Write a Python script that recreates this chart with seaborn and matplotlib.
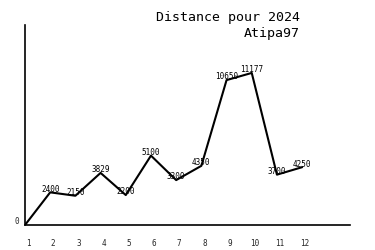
import matplotlib
matplotlib.use("Agg")
import matplotlib.pyplot as plt
import matplotlib.transforms as mtransforms
import seaborn as sns
import pandas as pd

months = [1, 2, 3, 4, 5, 6, 7, 8, 9, 10, 11, 12]
distance = [0, 2400, 2150, 3829, 2200, 5100, 3300, 4350, 10650, 11177, 3700, 4250]
point_labels = ["", "2400", "2150", "3829", "2200", "5100", "3300", "4350", "10650", "11177", "3700", "4250"]
month_labels = [str(m) for m in months]
title_lines = ["Distance pour 2024", "Atipa97"]

sns.set_theme(style="white")
plt.rcParams["font.family"] = ["DejaVu Sans Mono", "DejaVu Sans"]

df = pd.DataFrame({"month": months, "distance": distance})

fig = plt.figure(figsize=(3.75, 2.5), dpi=100)
ax = fig.add_axes([25/375, 25/250, 325/375, 200/250])
sns.lineplot(data=df, x="month", y="distance", ax=ax, color="black", linewidth=1.5)

for m, d, lab in zip(months, distance, point_labels):
    if lab:
        ax.annotate(lab, (m, d), xytext=(0, -1), textcoords="offset points",
                    ha="center", va="bottom", fontsize=5.5, color="black", zorder=1)

ax.set_xlim(1, 13.9)
ax.set_ylim(0, 14700)
ax.set_xticks(months)
ax.set_xticklabels(month_labels, fontsize=5.5)
ax.set_yticks([0])
ax.set_yticklabels(["0"], fontsize=5.5)
ax.tick_params(axis="x", length=0, pad=10)
ax.tick_params(axis="y", length=0, pad=4)
shift_x = mtransforms.ScaledTranslation(3/100, 0, fig.dpi_scale_trans)
for lab in ax.get_xticklabels():
    lab.set_transform(lab.get_transform() + shift_x)
shift_y = mtransforms.ScaledTranslation(0, 4/100, fig.dpi_scale_trans)
for lab in ax.get_yticklabels():
    lab.set_transform(lab.get_transform() + shift_y)
ax.set_xlabel("")
ax.set_ylabel("")
for s in ["top", "right"]:
    ax.spines[s].set_visible(False)
for s in ["left", "bottom"]:
    ax.spines[s].set_color("black")
    ax.spines[s].set_linewidth(1.2)

fig.text(300/375, 1 - 18/250, title_lines[0], ha="right", va="center", fontsize=9.5, color="black")
fig.text(300/375, 1 - 33/250, title_lines[1], ha="right", va="center", fontsize=9.5, color="black")

fig.savefig("out.png", dpi=100, facecolor="white")
